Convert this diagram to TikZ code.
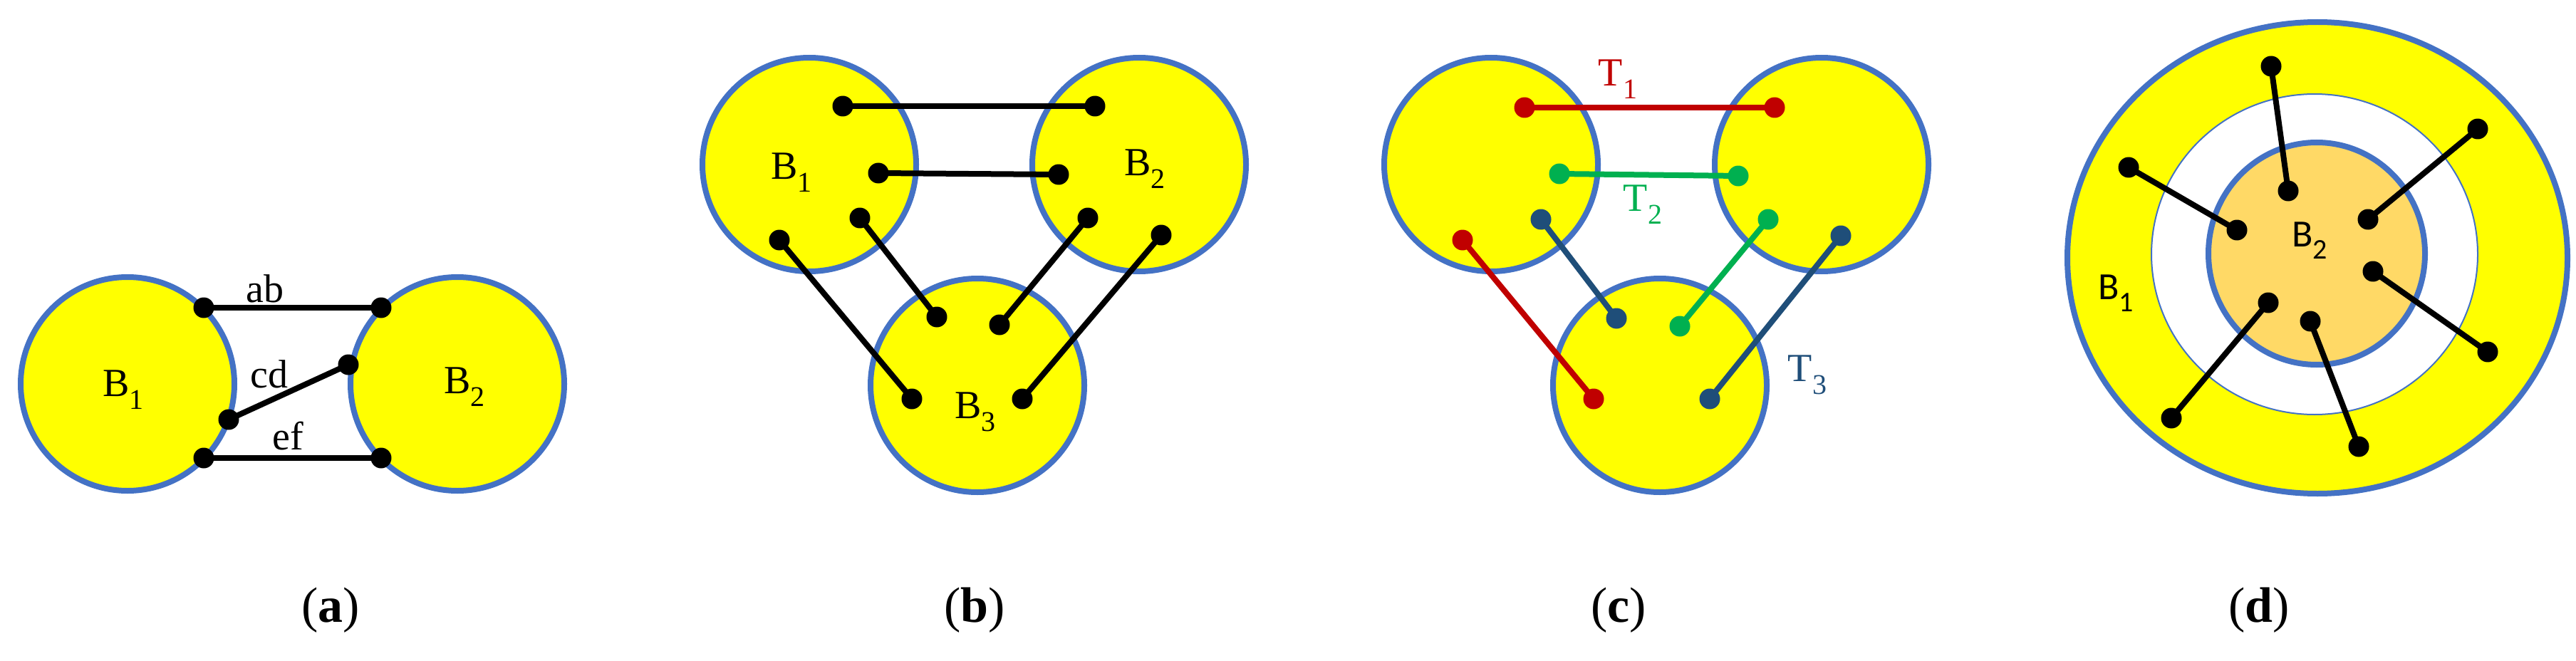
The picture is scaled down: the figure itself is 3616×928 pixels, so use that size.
\documentclass[tikz,border=0pt]{standalone}
\usepackage{fontspec}
\setmainfont{Liberation Serif}
\newfontfamily\calib{Carlito}
\definecolor{bblue}{HTML}{4472C4}
\definecolor{byel}{HTML}{FFFF00}
\definecolor{borange}{HTML}{FFD966}
\definecolor{tred}{HTML}{C00000}
\definecolor{tgreen}{HTML}{00B050}
\definecolor{tnavy}{HTML}{1F4E79}
\newcommand\sbs[1]{\raisebox{-0.32em}{\fontsize{40}{40}\selectfont #1}}
\begin{document}
\begin{tikzpicture}[x=1pt,y=-1pt,
  blob/.style={draw=bblue,line width=8pt,fill=byel},
  dot/.style={circle,fill=#1,inner sep=0pt,minimum size=29pt},
  dot/.default=black,
  link/.style={line width=8pt,draw=#1},
  link/.default=black,
  lbl/.style={font=\fontsize{56}{60}\selectfont,inner sep=0pt},
  dlbl/.style={font=\calib\fontsize{54}{60}\selectfont,inner sep=0pt},
  panelcap/.style={font=\fontsize{70}{80}\selectfont,inner sep=0pt}]
\useasboundingbox (0,0) rectangle (3616,928);
% ---------- (a)
\draw[blob] (179,539) circle (150);
\draw[blob] (642,539) circle (150);
\node[dot] (a1) at (286,432) {}; \node[dot] (a2) at (535,432) {};
\node[dot] (c1) at (321,589) {}; \node[dot] (d1) at (489,512) {};
\node[dot] (e1) at (286,643) {}; \node[dot] (f1) at (535,643) {};
\draw[link] (a1.center) -- (a2.center);
\draw[link] (c1.center) -- (d1.center);
\draw[link] (e1.center) -- (f1.center);
\node[lbl] (lab) at (372,405) {ab};
\node[lbl] (lcd) at (378,525) {cd};
\node[lbl] (lef) at (404,612) {ef};
\node[lbl] (aB1) at (173,547) {B\sbs{1}};
\node[lbl] (aB2) at (652,543) {B\sbs{2}};
\node[panelcap] (capa) at (464,857) {(\textbf{a})};
% ---------- (b)
\draw[blob] (1136,231) circle (150);
\draw[blob] (1599,231) circle (150);
\draw[blob] (1372,541) circle (150);
\node[dot] (b1) at (1183,149) {}; \node[dot] (b2) at (1537,149) {};
\node[dot] (b3) at (1233,243) {}; \node[dot] (b4) at (1486,245) {};
\node[dot] (b5) at (1207,306) {}; \node[dot] (b6) at (1315,445) {};
\node[dot] (b7) at (1094,337) {}; \node[dot] (b8) at (1280,560) {};
\node[dot] (b9) at (1527,306) {}; \node[dot] (b10) at (1403,456) {};
\node[dot] (b11) at (1630,330) {}; \node[dot] (b12) at (1435,560) {};
\foreach \p/\q in {b1/b2,b3/b4,b5/b6,b7/b8,b9/b10,b11/b12}
  \draw[link] (\p.center) -- (\q.center);
\node[lbl] (bB1) at (1111,242) {B\sbs{1}};
\node[lbl] (bB2) at (1607,237) {B\sbs{2}};
\node[lbl] (bB3) at (1369,578) {B\sbs{3}};
\node[panelcap] (capb) at (1368,857) {(\textbf{b})};
% ---------- (c)
\draw[blob] (2093,231) circle (150);
\draw[blob] (2557,231) circle (150);
\draw[blob] (2330,541) circle (150);
\node[dot=tred] (r1) at (2140,151) {}; \node[dot=tred] (r2) at (2491,151) {};
\node[dot=tgreen] (g1) at (2189,244) {}; \node[dot=tgreen] (g2) at (2440,247) {};
\node[dot=tnavy] (n1) at (2163,308) {}; \node[dot=tnavy] (n2) at (2269,447) {};
\node[dot=tred] (r3) at (2053,337) {}; \node[dot=tred] (r4) at (2237,560) {};
\node[dot=tgreen] (g3) at (2482,308) {}; \node[dot=tgreen] (g4) at (2358,458) {};
\node[dot=tnavy] (n3) at (2584,331) {}; \node[dot=tnavy] (n4) at (2400,560) {};
\draw[link=tred] (r1.center) -- (r2.center);
\draw[link=tgreen] (g1.center) -- (g2.center);
\draw[link=tnavy] (n1.center) -- (n2.center);
\draw[link=tred] (r3.center) -- (r4.center);
\draw[link=tgreen] (g3.center) -- (g4.center);
\draw[link=tnavy] (n3.center) -- (n4.center);
\node[lbl,text=tred] (T1) at (2271,111) {T\sbs{1}};
\node[lbl,text=tgreen] (T2) at (2306,287) {T\sbs{2}};
\node[lbl,text=tnavy] (T3) at (2537,526) {T\sbs{3}};
\node[panelcap] (capc) at (2272,857) {(\textbf{c})};
% ---------- (d)
\draw[blob] (3253,362) ellipse [x radius=351, y radius=331];
\draw[draw=bblue,line width=2pt,fill=white] (3249,357) ellipse [x radius=229, y radius=225];
\draw[draw=bblue,line width=8pt,fill=borange] (3252,356) ellipse [x radius=152, y radius=156];
\node[dot] (d1a) at (3188,93) {};  \node[dot] (d1b) at (3212,268) {};
\node[dot] (d2a) at (2988,235) {}; \node[dot] (d2b) at (3140,323) {};
\node[dot] (d3a) at (3478,181) {}; \node[dot] (d3b) at (3324,308) {};
\node[dot] (d4a) at (3331,381) {}; \node[dot] (d4b) at (3492,494) {};
\node[dot] (d5a) at (3184,425) {}; \node[dot] (d5b) at (3048,587) {};
\node[dot] (d6a) at (3243,451) {}; \node[dot] (d6b) at (3311,627) {};
\foreach \p/\q in {d1a/d1b,d2a/d2b,d3a/d3b,d4a/d4b,d5a/d5b,d6a/d6b}
  \draw[link] (\p.center) -- (\q.center);
\node[dlbl] (dB2) at (3242,338) {B\sbs{2}};
\node[dlbl] (dB1) at (2970,412) {B\sbs{1}};
\node[panelcap] (capd) at (3171,857) {(\textbf{d})};
\end{tikzpicture}
\end{document}
